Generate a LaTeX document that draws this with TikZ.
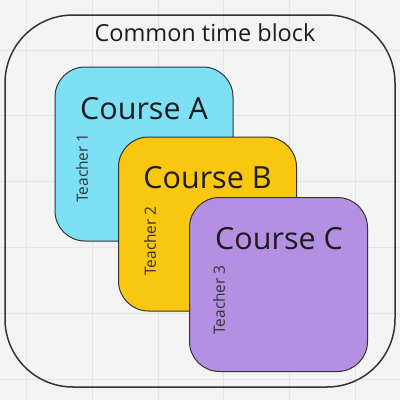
\documentclass[tikz,border=0pt]{standalone}
\usepackage{fontspec}
\setmainfont{Open Sans}
\usetikzlibrary{positioning}
\definecolor{paper}{HTML}{F3F3F3}
\definecolor{gridgray}{HTML}{E4E4E4}
\definecolor{edge}{HTML}{333333}
\definecolor{ink}{HTML}{1C1C1C}
\definecolor{courseblue}{HTML}{7EE0F5}
\definecolor{courseyellow}{HTML}{FAC710}
\definecolor{coursepurple}{HTML}{B590E2}
\tikzset{
  coursebox/.style={draw=edge,line width=1pt,rectangle,rounded corners=30pt,minimum width=178pt,minimum height=174pt},
  coursetitle/.style={anchor=base,text=ink,font=\fontsize{30.5}{36}\selectfont},
  teacher/.style={rotate=90,text=edge,font=\fontsize{15.5}{18}\selectfont}
}

\begin{document}
\begin{tikzpicture}[x=1pt,y=-1pt]
  % Sfondo e griglia
  \fill[paper] (0,0) rectangle (400,400);
  \useasboundingbox (0,0) rectangle (400,400);
  \foreach \gx in {26.5,92.2,157.9,223.6,289.3,355.0}
    \draw[gridgray,line width=0.8pt] (\gx,0) -- (\gx,400);
  \foreach \gy in {50,115.8,181.6,247.4,313.2,379}
    \draw[gridgray,line width=0.8pt] (0,\gy) -- (400,\gy);

  % Blocco comune
  \node[draw=edge,line width=1.5pt,rectangle,rounded corners=68pt,minimum width=390pt,minimum height=372pt] (block) at (200,201) {};
  \node[anchor=base,text=ink,font=\fontsize{23.5}{28}\selectfont] (blocktitle) at (205,41) {Common time block};

  % Corsi
  \node[coursebox,fill=courseblue] (coursea) at (144,154) {};
  \node[coursetitle] (coursealabel) at (144,119) {Course A};
  \node[teacher] (teachera) at (82,168) {Teacher 1};

  \node[coursebox,fill=courseyellow] (courseb) at (207.5,224) {};
  \node[coursetitle] (courseblabel) at (207.5,188) {Course B};
  \node[teacher] (teacherb) at (150,241) {Teacher 2};

  \node[coursebox,fill=coursepurple] (coursec) at (278.5,284.5) {};
  \node[coursetitle] (courseclabel) at (279,249) {Course C};
  \node[teacher] (teacherc) at (219,300) {Teacher 3};
\end{tikzpicture}
\end{document}
